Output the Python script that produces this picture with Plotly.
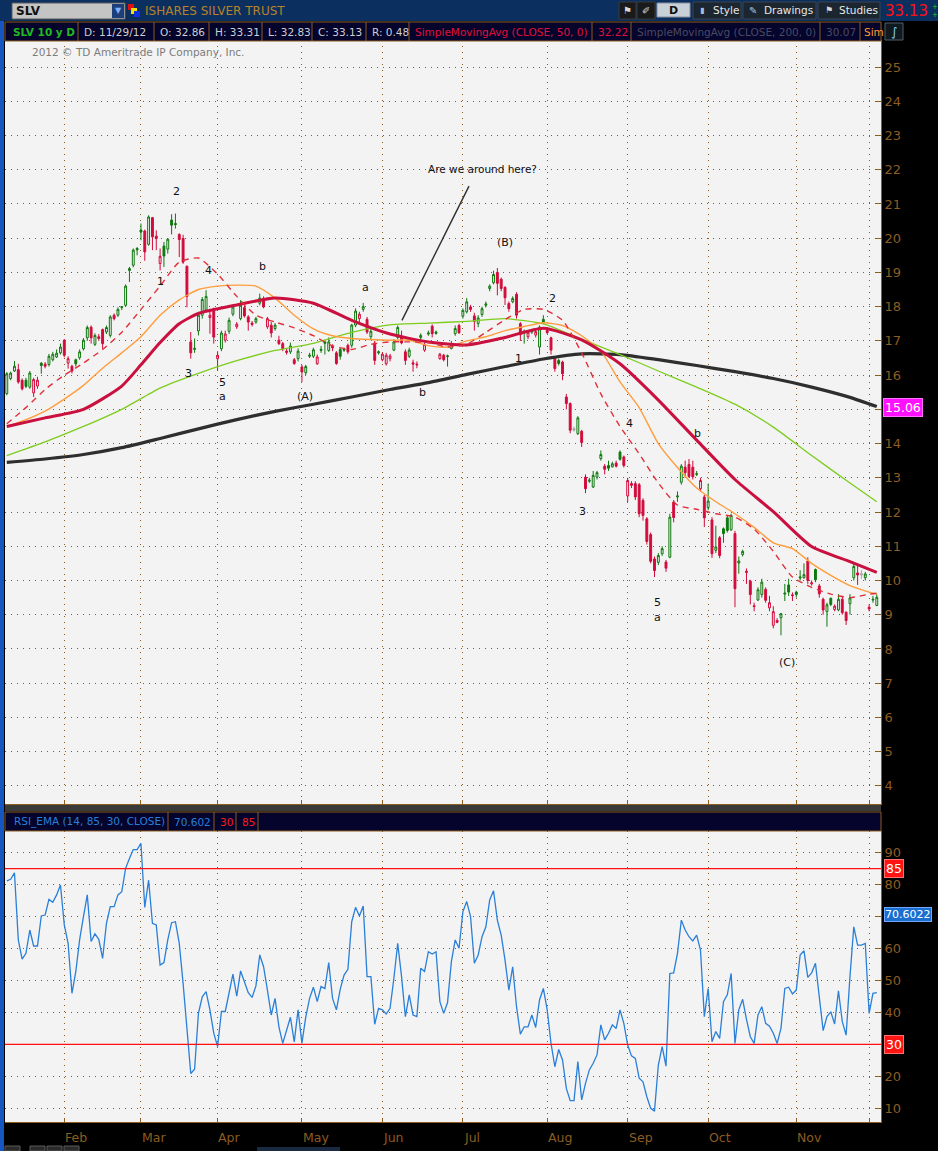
import plotly.graph_objects as go
import pandas as pd

# ---------------- data ----------------
HOLIDAYS = ["2008-01-21", "2008-02-18", "2008-03-21", "2008-05-26",
            "2008-07-04", "2008-09-01", "2008-11-27"]
trade_dates = [d for d in pd.bdate_range("2008-01-10", "2008-12-03")
               if d.strftime("%Y-%m-%d") not in HOLIDAYS]

opens = [15.46, 15.90, 16.12, 16.16, 15.85, 15.85, 15.65, 15.48, 15.68, 16.35,
         16.32, 16.31, 16.45, 16.53, 16.65, 17.02, 16.35, 16.26, 16.45, 16.51,
         16.77, 17.09, 17.40, 16.90, 17.12, 17.33, 17.26, 17.16, 17.75, 17.75,
         18.00, 18.04, 19.11, 19.21, 19.70, 20.24, 20.21, 19.82, 20.60, 20.06,
         19.26, 19.77, 19.68, 20.53, 20.43, 20.11, 19.99, 19.18, 16.97, 16.75,
         17.29, 17.75, 17.90, 17.68, 17.94, 16.48, 16.77, 17.02, 17.28, 17.78,
         17.41, 17.65, 17.97, 17.70, 17.52, 17.55, 18.10, 18.24, 17.41, 17.46,
         17.36, 17.02, 16.92, 16.66, 16.68, 16.45, 16.48, 16.24, 16.07, 16.55,
         16.55, 16.33, 16.72, 16.97, 16.72, 16.85, 16.65, 16.75, 16.76, 16.87,
         16.87, 17.46, 17.65, 17.92, 17.63, 17.12, 16.94, 16.65, 16.45, 16.33,
         16.48, 16.73, 17.10, 17.12, 16.68, 16.55, 16.36, 16.32, 17.10, 16.73,
         17.20, 17.43, 17.26, 16.48, 16.58, 16.54, 16.78, 17.21, 17.45, 17.72,
         17.85, 17.99, 17.73, 17.51, 17.77, 18.04, 18.53, 18.70, 19.00, 18.80,
         18.56, 18.09, 18.14, 18.36, 17.50, 17.26, 17.12, 17.26, 17.17, 16.82,
         17.63, 17.31, 17.09, 16.50, 16.43, 16.38, 15.36, 15.17, 14.44, 14.29,
         14.36, 13.02, 12.90, 12.73, 13.02, 13.56, 13.34, 13.36, 13.32, 13.43,
         13.75, 13.61, 12.47, 12.83, 12.83, 12.80, 12.34, 11.80, 11.34, 10.63,
         10.53, 10.78, 10.54, 10.68, 12.29, 12.44, 12.87, 13.31, 13.39, 13.31,
         13.10, 12.68, 12.44, 12.13, 11.77, 10.88, 11.25, 11.51, 11.83, 11.48,
         11.37, 10.51, 10.76, 10.27, 9.98, 9.26, 9.43, 9.59, 9.74, 9.20,
         8.69, 8.83, 8.91, 9.60, 9.87, 9.58, 9.66, 10.07, 10.08, 10.57,
         9.90, 10.32, 9.84, 9.45, 9.09, 9.48, 9.15, 9.14, 9.45, 9.07,
         9.32, 10.08, 10.22, 10.20, 10.08, 9.22, 9.43, 9.27]
highs = [16.09, 16.10, 16.41, 16.33, 15.90, 15.92, 16.12, 15.92, 15.95, 16.38,
         16.38, 16.62, 16.68, 16.75, 16.92, 17.05, 16.55, 16.30, 16.48, 16.75,
         17.08, 17.45, 17.45, 17.22, 17.20, 17.36, 17.45, 17.75, 17.80, 17.98,
         18.01, 18.65, 19.16, 19.70, 19.74, 20.43, 20.25, 20.67, 20.62, 20.23,
         19.70, 19.89, 20.00, 20.70, 20.72, 20.14, 20.10, 19.20, 17.26, 17.07,
         17.85, 18.28, 18.48, 17.94, 17.97, 16.70, 17.30, 17.30, 17.68, 18.05,
         17.55, 18.19, 18.10, 17.75, 17.58, 17.70, 18.38, 18.30, 17.70, 17.55,
         17.52, 17.15, 16.97, 16.78, 16.95, 16.50, 16.78, 16.30, 16.30, 16.65,
         16.80, 16.60, 16.85, 17.02, 17.10, 16.90, 16.70, 16.80, 16.80, 16.92,
         17.50, 17.95, 17.85, 18.11, 17.70, 17.35, 17.00, 16.72, 16.66, 16.65,
         16.62, 17.05, 17.45, 17.30, 16.75, 16.80, 16.45, 16.40, 17.22, 16.95,
         17.30, 17.48, 17.30, 16.65, 16.62, 16.60, 17.00, 17.45, 17.50, 17.95,
         18.25, 18.05, 17.82, 17.75, 18.00, 18.15, 18.65, 19.05, 19.13, 18.85,
         18.60, 18.15, 18.30, 18.42, 17.55, 17.33, 17.30, 17.33, 17.33, 17.45,
         17.75, 17.40, 17.12, 16.55, 16.48, 16.42, 15.45, 15.20, 14.50, 14.80,
         14.40, 13.10, 13.00, 13.20, 13.20, 13.80, 13.40, 13.50, 13.47, 13.50,
         13.80, 13.65, 13.00, 12.90, 12.90, 12.85, 12.40, 11.85, 11.40, 10.70,
         10.80, 11.00, 10.60, 11.95, 12.35, 12.60, 13.40, 13.50, 13.55, 13.50,
         13.20, 13.00, 12.50, 12.83, 11.85, 11.60, 11.30, 11.55, 11.90, 11.95,
         11.45, 10.70, 10.90, 10.35, 10.02, 9.35, 9.80, 10.05, 9.80, 9.55,
         9.25, 8.90, 9.05, 9.90, 10.05, 9.65, 9.70, 10.30, 10.50, 10.68,
         10.00, 10.35, 9.90, 9.50, 9.35, 9.50, 9.30, 9.60, 9.55, 9.10,
         9.60, 10.50, 10.45, 10.30, 10.25, 9.30, 9.55, 9.60]
lows = [15.41, 15.85, 16.09, 15.75, 15.55, 15.62, 15.60, 15.36, 15.60, 16.04,
        16.20, 16.25, 16.40, 16.50, 16.60, 16.52, 16.19, 16.05, 16.25, 16.45,
        16.72, 17.00, 16.92, 16.85, 17.00, 16.77, 17.20, 17.10, 17.60, 17.70,
        17.90, 18.00, 18.72, 19.15, 19.50, 19.94, 19.34, 19.78, 19.65, 19.65,
        19.06, 19.16, 19.55, 20.11, 20.28, 19.45, 19.25, 17.98, 16.48, 16.65,
        17.16, 17.65, 17.85, 17.21, 16.92, 16.14, 16.70, 16.95, 17.20, 17.72,
        17.35, 17.60, 17.68, 17.30, 17.42, 17.50, 18.04, 17.95, 17.35, 17.10,
        17.30, 16.88, 16.70, 16.60, 16.62, 16.30, 16.40, 15.80, 16.00, 16.50,
        16.50, 16.30, 16.65, 16.60, 16.68, 16.70, 16.30, 16.45, 16.68, 16.62,
        16.80, 17.40, 17.55, 17.85, 17.20, 17.05, 16.30, 16.60, 16.40, 16.28,
        16.40, 16.70, 17.05, 16.90, 16.30, 16.50, 16.10, 16.20, 17.00, 16.68,
        17.15, 17.10, 17.18, 16.45, 16.40, 16.25, 16.75, 17.15, 17.20, 17.65,
        17.80, 17.85, 17.30, 17.40, 17.70, 17.98, 18.45, 18.65, 18.33, 18.45,
        18.05, 17.85, 18.10, 17.65, 17.00, 16.92, 17.05, 17.20, 17.10, 16.60,
        17.50, 17.20, 16.60, 16.10, 16.28, 15.85, 15.00, 14.30, 14.35, 14.25,
        13.90, 12.55, 12.85, 12.70, 12.95, 13.50, 13.10, 13.20, 13.30, 13.30,
        13.50, 13.30, 12.29, 12.70, 12.35, 11.85, 11.75, 11.05, 10.50, 10.10,
        10.45, 10.72, 10.25, 10.65, 11.70, 12.30, 12.80, 13.00, 13.00, 12.95,
        13.05, 12.60, 11.56, 12.05, 10.66, 10.80, 10.65, 11.10, 11.40, 11.45,
        9.22, 10.20, 10.70, 9.90, 9.30, 9.10, 9.40, 9.50, 9.35, 9.10,
        8.60, 8.75, 8.40, 9.40, 9.55, 9.40, 9.50, 10.00, 10.05, 9.90,
        9.85, 9.95, 9.50, 9.00, 8.65, 9.25, 9.10, 9.10, 9.00, 8.70,
        9.00, 10.00, 9.87, 10.05, 10.00, 9.10, 9.35, 9.25]
closes = [16.04, 16.06, 16.26, 15.80, 15.60, 15.67, 16.06, 15.87, 15.85, 16.28,
          16.26, 16.55, 16.61, 16.64, 16.82, 16.58, 16.48, 16.12, 16.33, 16.68,
          17.02, 17.39, 17.09, 17.16, 17.07, 16.92, 17.39, 17.70, 17.65, 17.92,
          17.98, 18.60, 19.06, 19.65, 19.66, 20.18, 19.60, 20.62, 20.04, 19.99,
          19.47, 19.48, 19.97, 20.38, 20.40, 19.96, 19.30, 18.30, 16.65, 16.78,
          17.75, 18.21, 18.30, 17.75, 17.11, 16.58, 17.23, 17.20, 17.60, 17.99,
          17.49, 18.04, 17.73, 17.55, 17.48, 17.65, 18.25, 17.99, 17.65, 17.23,
          17.46, 16.92, 16.77, 16.70, 16.85, 16.34, 16.70, 16.09, 16.25, 16.58,
          16.74, 16.53, 16.75, 16.93, 16.97, 16.80, 16.34, 16.55, 16.73, 16.68,
          17.46, 17.87, 17.78, 18.00, 17.26, 17.28, 16.43, 16.68, 16.61, 16.58,
          16.56, 16.97, 17.39, 16.94, 16.43, 16.73, 16.32, 16.30, 17.16, 16.89,
          17.23, 17.21, 17.22, 16.61, 16.45, 16.56, 16.91, 17.36, 17.24, 17.89,
          18.14, 17.92, 17.57, 17.67, 17.94, 18.08, 18.60, 18.94, 18.68, 18.53,
          18.26, 17.94, 18.24, 17.75, 17.18, 17.28, 17.25, 17.28, 17.27, 17.40,
          17.53, 17.24, 16.73, 16.19, 16.34, 16.04, 15.17, 14.39, 14.39, 14.75,
          14.03, 12.68, 12.93, 13.07, 13.15, 13.68, 13.25, 13.28, 13.41, 13.34,
          13.54, 13.36, 12.92, 12.78, 12.44, 11.95, 11.90, 11.14, 10.56, 10.29,
          10.73, 10.93, 10.36, 11.85, 11.84, 12.47, 13.34, 13.15, 13.04, 13.03,
          13.12, 12.92, 11.83, 12.32, 10.78, 10.98, 10.73, 11.37, 11.46, 11.90,
          9.76, 10.57, 10.85, 10.24, 9.59, 9.24, 9.73, 9.95, 9.42, 9.35,
          9.09, 8.78, 9.03, 9.63, 9.66, 9.56, 9.59, 10.10, 10.17, 10.00,
          9.93, 10.02, 9.61, 9.14, 9.29, 9.30, 9.25, 9.45, 9.06, 8.83,
          9.49, 10.41, 10.16, 10.16, 10.19, 9.17, 9.45, 9.51]

rsi_values = [81.2, 81.7, 83.7, 62.7, 56.7, 58.5, 65.8, 60.8, 60.8, 70.2,
              70.5, 75.4, 74.5, 76.8, 79.9, 67.4, 61.6, 46.0, 52.8, 62.7,
              70.0, 76.8, 62.2, 64.6, 62.9, 56.9, 67.9, 73.1, 73.1, 76.8,
              77.8, 85.1, 88.2, 91.0, 91.0, 92.9, 72.9, 81.4, 67.9, 67.4,
              54.8, 55.6, 62.7, 68.1, 68.4, 61.6, 49.1, 35.5, 20.9, 22.2,
              39.7, 44.9, 46.5, 40.8, 33.5, 29.3, 40.3, 40.3, 46.5, 52.0,
              45.1, 53.0, 49.6, 46.2, 44.7, 48.3, 58.0, 54.3, 47.0, 39.2,
              44.4, 35.5, 30.3, 34.5, 38.5, 30.8, 40.8, 30.3, 38.5, 44.4,
              47.9, 43.4, 48.1, 47.5, 55.6, 44.4, 40.8, 47.2, 51.7, 53.5,
              68.4, 72.9, 70.2, 73.3, 51.2, 51.2, 36.3, 41.3, 40.8, 39.5,
              41.3, 50.7, 61.6, 51.2, 38.7, 45.5, 39.2, 38.7, 53.8, 52.8,
              59.0, 58.3, 59.0, 43.4, 39.7, 43.1, 55.9, 62.7, 60.1, 71.5,
              74.7, 70.0, 55.4, 58.0, 63.7, 66.8, 75.2, 78.1, 68.9, 64.2,
              56.4, 47.0, 54.3, 41.8, 33.2, 35.5, 35.5, 39.2, 35.3, 43.9,
              47.5, 40.8, 30.3, 23.0, 28.4, 25.1, 16.2, 12.4, 12.4, 24.6,
              12.6, 17.8, 22.0, 24.1, 26.7, 36.1, 31.4, 33.5, 36.1, 35.0,
              40.8, 36.6, 29.8, 26.4, 25.6, 19.4, 18.3, 13.6, 10.0, 9.1,
              23.5, 29.3, 23.2, 52.2, 52.4, 58.5, 68.9, 65.8, 63.7, 62.4,
              64.2, 59.5, 38.7, 47.5, 30.8, 34.0, 31.9, 43.4, 45.5, 52.2,
              30.3, 40.8, 44.1, 37.8, 32.4, 30.3, 39.2, 41.8, 36.6, 35.7,
              33.5, 30.3, 35.0, 47.5, 47.9, 45.8, 47.0, 58.0, 59.3, 51.0,
              52.4, 55.4, 44.9, 34.3, 38.7, 40.2, 36.4, 46.8, 37.1, 32.9,
              51.2, 66.8, 61.1, 61.1, 61.6, 39.7, 46.0, 46.2]

ma_days_5 = list(range(0, 226, 5)) + [227]
ma_days_10 = list(range(0, 221, 10)) + [227]
sma50_days = [0, 10, 20, 30, 35, 40, 45, 50, 60, 70, 80, 90, 100, 110, 120, 130,
              140, 150, 160, 170, 180, 190, 200, 210, 220, 227]
sma50_vals = [14.5, 14.75, 15.0, 15.68, 16.3, 16.95, 17.5, 17.8, 18.05, 18.25, 18.1,
              17.6, 17.2, 16.97, 16.88, 17.1, 17.37, 17.03, 16.33, 15.27, 14.1,
              12.95, 12.01, 10.99, 10.55, 10.24]
sma200_vals = [13.45, 13.55, 13.68, 13.88, 14.15, 14.43, 14.7, 14.94, 15.15, 15.36,
               15.58, 15.78, 16.02, 16.25, 16.47, 16.62, 16.6, 16.45, 16.28, 16.1,
               15.9, 15.65, 15.35, 15.08]
green_ma_vals = [13.65, 14.05, 14.5, 15.0, 15.62, 16.05, 16.42, 16.72, 16.93, 17.25,
                 17.47, 17.52, 17.57, 17.65, 17.5, 17.05, 16.6, 16.12, 15.65, 15.15,
                 14.48, 13.65, 12.85, 12.3]
orange_ma_vals = [14.5, 14.7, 14.95, 15.3, 15.7, 16.2, 16.65, 17.12, 17.75, 18.2,
                  18.5, 18.6, 18.63, 18.6, 18.25, 17.75, 17.35, 17.15, 17.07, 17.04,
                  17.02, 17.02, 16.86, 16.82, 17.0, 17.12, 17.3, 17.42, 17.53, 17.45,
                  17.15, 16.7, 15.8, 15.05, 14.0, 13.3, 12.7, 12.3, 11.95, 11.55,
                  11.1, 10.93, 10.5, 10.15, 9.85, 9.66, 9.6]
dashed_ma_vals = [14.58, 15.05, 15.58, 16.0, 16.35, 16.75, 17.25, 17.92, 18.6, 19.3,
                  19.42, 18.95, 18.3, 17.75, 17.55, 17.38, 17.15, 16.85, 16.75, 16.9,
                  16.97, 16.97, 16.95, 16.82, 16.9, 17.25, 17.62, 17.92, 17.92, 17.6,
                  16.65, 15.45, 14.5, 13.7, 12.85, 12.2, 12.08, 11.95, 11.85, 11.5,
                  10.85, 10.1, 9.8, 9.6, 9.5, 9.6, 9.63]

price_ticks = list(range(4, 26))
rsi_ticks = list(range(10, 100, 10))
last_price_label = 15.06
last_rsi_label = 70.6022
wave_labels = [("2", 44.4, 21.35), ("1", 40.2, 18.74), ("4", 52.5, 19.06),
               ("3", 47.5, 16.05), ("5", 56.4, 15.79), ("a", 56.4, 15.38),
               ("b", 66.6, 19.18), ("(A)", 77.8, 15.38), ("a", 93.7, 18.57),
               ("b", 108.4, 15.5), ("(B)", 130.0, 19.88), ("2", 142.5, 18.25),
               ("1", 133.4, 16.49), ("4", 162.6, 14.59), ("3", 150.1, 12.02),
               ("b", 180.1, 14.3), ("5", 169.9, 9.36), ("a", 169.9, 8.92),
               ("(C)", 203.6, 7.6)]
note_text = "Are we around here?"

# ---------------- helpers ----------------
W, H = 938, 1151
FONT = "DejaVu Sans"
BROWN = "#8c5c20"
GRID = "#8a5a1a"
GREEN = "#0e780e"
RED = "#d20a3c"
BG = "#f3f3f3"


def px(x):
    return x / W


def py(y):
    return 1 - y / H


n = len(closes)
xi = list(range(n))

# month starts
month_idx, month_lab = [], []
prev_m = trade_dates[0].month
for i, d in enumerate(trade_dates):
    if d.month != prev_m:
        month_idx.append(i)
        month_lab.append(d.strftime("%b"))
        prev_m = d.month

fig = go.Figure()

# moving averages
ma_specs = [
    (ma_days_10, sma200_vals, "#2e2e2e", 3.2, "solid"),
    (ma_days_10, green_ma_vals, "#7dcc1e", 1.3, "solid"),
    (ma_days_5, orange_ma_vals, "#ff9d3d", 1.4, "solid"),
    (sma50_days, sma50_vals, "#c9103e", 3.0, "solid"),
    (ma_days_5, dashed_ma_vals, "#e0303a", 1.4, "6px,5px"),
]
for days, vals, col, wd, dash in ma_specs:
    fig.add_trace(go.Scatter(x=days, y=vals, mode="lines",
                             line=dict(color=col, width=wd, dash=dash, shape="spline", smoothing=0.6),
                             hoverinfo="skip", showlegend=False, xaxis="x", yaxis="y"))

# candles, coloured by close vs previous close (hollow when close > open)
groups = {"g": [], "r": [], "n": []}
for i in range(n):
    ref = closes[i - 1] if i > 0 else opens[i]
    if closes[i] > ref:
        groups["g"].append(i)
    elif closes[i] < ref:
        groups["r"].append(i)
    else:
        groups["n"].append(i)
gcols = {"g": GREEN, "r": RED, "n": "#a8a8a8"}
for k, idxs in groups.items():
    if not idxs:
        continue
    c = gcols[k]
    fig.add_trace(go.Candlestick(
        x=idxs, open=[opens[i] for i in idxs], high=[highs[i] for i in idxs],
        low=[lows[i] for i in idxs], close=[closes[i] for i in idxs],
        increasing=dict(line=dict(color=c, width=1), fillcolor=BG),
        decreasing=dict(line=dict(color=c, width=1), fillcolor=c),
        whiskerwidth=0, showlegend=False, hoverinfo="skip", xaxis="x", yaxis="y"))

# RSI
fig.add_trace(go.Scatter(x=xi, y=rsi_values, mode="lines",
                         line=dict(color="#2a7fd8", width=1.3),
                         hoverinfo="skip", showlegend=False, xaxis="x2", yaxis="y2"))

xr = [-0.47, 228.1]
DOTS = "1px,5px"
common_x = dict(range=xr, tickvals=month_idx, showticklabels=False, showgrid=True,
                gridcolor=GRID, griddash=DOTS, gridwidth=1, zeroline=False,
                showline=True, linecolor=BROWN, linewidth=1, ticks="inside",
                ticklen=4, tickcolor=BROWN, fixedrange=True,
                domain=[px(5), px(881)])
common_y = dict(side="right", showgrid=True, gridcolor=GRID, griddash=DOTS,
                gridwidth=1, zeroline=False, ticks="inside", ticklen=5,
                tickcolor=BROWN, showline=True, linecolor=BROWN, linewidth=1,
                tickfont=dict(family=FONT, size=13, color=BROWN), fixedrange=True)

# tick labels hidden where the value boxes cover them
price_text = ["" if abs(t - last_price_label) < 0.5 else str(t) for t in price_ticks]
rsi_text = ["" if abs(t - last_rsi_label) < 3 else str(t) for t in rsi_ticks]

fig.update_layout(
    width=W, height=H, autosize=False,
    margin=dict(l=0, r=0, t=0, b=0),
    paper_bgcolor="black", plot_bgcolor=BG,
    font=dict(family=FONT),
    xaxis=dict(**common_x, anchor="y", rangeslider=dict(visible=False)),
    xaxis2=dict(**common_x, anchor="y2"),
    yaxis=dict(**common_y, anchor="x", range=[3.47, 25.79], tickvals=price_ticks,
               ticktext=price_text, domain=[py(804), py(40)]),
    yaxis2=dict(**common_y, anchor="x2", range=[5.7, 96.8], tickvals=rsi_ticks,
                ticktext=rsi_text, domain=[py(1122), py(831)]),
)

shapes = []
ann = []


def rect(x0, y0, x1, y1, fill, line=None, lw=1):
    shapes.append(dict(type="rect", xref="paper", yref="paper",
                       x0=px(x0), x1=px(x1), y0=py(y1), y1=py(y0),
                       fillcolor=fill, line=dict(color=line or fill, width=lw if line else 0),
                       layer="above"))


def vline(x, y0, y1, col, w=1):
    shapes.append(dict(type="line", xref="paper", yref="paper",
                       x0=px(x), x1=px(x), y0=py(y0), y1=py(y1),
                       line=dict(color=col, width=w), layer="above"))


def text(x, y, s, col, size=13, bold=False, anchor="left", fam=FONT, bg=None):
    ann.append(dict(x=px(x), y=py(y), xref="paper", yref="paper", text=(f"<b>{s}</b>" if bold else s),
                    showarrow=False, xanchor=anchor, yanchor="middle",
                    font=dict(family=fam, size=size, color=col),
                    bgcolor=bg))


# top title bar
rect(0, 0, 938, 21, "#0b3060")
rect(12, 3, 125, 19, "#c4c4c4", "#5a5a5a")
rect(112, 4, 124, 18, "#1c3f7c")
text(14, 11, "SLV", "#101010", 12, bold=True)
text(118, 11, "▼", "#7fb0ff", 8, anchor="center")
rect(128, 4, 134, 10, "#e01010")
rect(131, 8, 137, 14, "#f0e000")
rect(134, 11, 140, 17, "#1030e0")
text(143, 11, "ISHARES SILVER TRUST", "#b8822a", 12)
rect(619, 2, 636, 19, "#1a1a1a", "#3a3a3a")
rect(637, 2, 655, 19, "#1a1a1a", "#3a3a3a")
text(627, 10, "⚑", "#d8d8d8", 10, anchor="center")
text(646, 10, "✐", "#d8d8d8", 10, anchor="center")
rect(657, 3, 690, 17, "#c8d0d8", "#8a9098")
text(673, 10, "D", "#101010", 11, bold=True, anchor="center")
rect(693, 2, 741, 19, "#1c2630", "#3a4450")
text(698, 10, "▮", "#9cc0e0", 8)
text(711, 10, "Style", "#e6e6e6", 10.5)
rect(743, 2, 816, 19, "#1c2630", "#3a4450")
text(747, 10, "✎", "#9cc0e0", 10)
text(762, 10, "Drawings", "#e6e6e6", 10.5)
rect(818, 2, 880, 19, "#1c2630", "#3a4450")
text(823, 10, "⚑", "#d8d8d8", 9)
text(837, 10, "Studies", "#e6e6e6", 10.5)
text(883, 11, "33.13", "#ff1010", 15)
text(930, 7, "+", "#20d020", 7)
text(930, 15, "+", "#20d020", 7)

# header strip with quote cells
rect(5, 22, 881, 41, "#04042c", BROWN)
for xv in [78, 154, 209, 262, 312, 366, 409, 592, 631, 820, 860]:
    vline(xv, 22, 41, BROWN)
text(11, 31.5, "SLV 10 y D", "#22b822", 10.5, bold=True)
cells = [(82, "D: 11/29/12", "#cfcfcf"), (158, "O: 32.86", "#cfcfcf"),
         (213, "H: 33.31", "#cfcfcf"), (266, "L: 32.83", "#cfcfcf"),
         (316, "C: 33.13", "#cfcfcf"), (370, "R: 0.48", "#cfcfcf"),
         (413, "SimpleMovingAvg (CLOSE, 50, 0)", "#e0103a"), (596, "32.22", "#e0103a"),
         (635, "SimpleMovingAvg (CLOSE, 200, 0)", "#4a4a62"), (824, "30.07", "#4a4a62"),
         (862, "Sim", "#ff9a30")]
for xv, s, col in cells:
    text(xv, 31.5, s, col, 10.5)
rect(885, 23, 903, 40, "#101820", "#50606a")
text(894, 31.5, "∫", "#8fd0ff", 12, anchor="center")

# left blue stripe
rect(0, 21, 4, 1151, "#1656c0")

# separator between panels
rect(5, 805, 881, 811, "#3a3a3a")
rect(881, 805, 938, 811, "#000000")

# RSI header strip
rect(5, 812, 881, 831, "#04042c", BROWN)
for xv in [168, 214, 236, 258]:
    vline(xv, 812, 831, BROWN)
text(12, 821.5, "RSI_EMA (14, 85, 30, CLOSE)", "#2a7fd8", 10.5)
text(172, 821.5, "70.602", "#2a7fd8", 10.5)
text(218, 821.5, "30", "#ff1a1a", 10.5)
text(240, 821.5, "85", "#ff1a1a", 10.5)

# bottom toolbar stub
for x0 in [5, 30, 47, 64]:
    rect(x0, 1146, x0 + 15, 1151, "#2a2a2a", "#5a5a5a")
rect(257, 1147, 340, 1151, "#1a2a40")

# copyright
text(30, 52, "2012 © TD Ameritrade IP Company, Inc.", "#7c7c7c", 10.5)

# RSI reference lines
for lvl in (85, 30):
    shapes.append(dict(type="line", xref="x2 domain", yref="y2", x0=0, x1=1, y0=lvl, y1=lvl,
                       line=dict(color="#ff1010", width=1.2), layer="above"))

# pointer line for the note
shapes.append(dict(type="line", xref="x", yref="y", x0=120.6, y0=21.52, x1=103.1, y1=17.6,
                   line=dict(color="#303030", width=1.4), layer="above"))
ann.append(dict(x=124.0, y=22.02, xref="x", yref="y", text=note_text, showarrow=False,
                xanchor="center", yanchor="middle", font=dict(family=FONT, size=10.5, color="#101010")))

for s, xv, yv in wave_labels:
    ann.append(dict(x=xv, y=yv, xref="x", yref="y", text=s, showarrow=False,
                    xanchor="center", yanchor="middle",
                    font=dict(family=FONT, size=11, color="#101010")))

# month labels
for mi, ml in zip(month_idx, month_lab):
    if ml == "Dec":
        continue
    ann.append(dict(x=mi - 0.3, y=py(1137), xref="x2", yref="paper", text=ml, showarrow=False,
                    xanchor="left", yanchor="middle", font=dict(family=FONT, size=12.5, color=BROWN)))

# value boxes on the right axes
ann.append(dict(x=px(883), y=last_price_label, xref="paper", yref="y", text=f"{last_price_label:.2f}",
                showarrow=False, xanchor="left", yanchor="middle", bgcolor="#ff10ff",
                bordercolor="#ff70ff", borderwidth=1, borderpad=1,
                font=dict(family=FONT, size=12.5, color="white")))
ann.append(dict(x=px(884), y=85, xref="paper", yref="y2", text="85", showarrow=False,
                xanchor="left", yanchor="middle", bgcolor="#ff1414", bordercolor="#ff7070",
                borderwidth=1, borderpad=1, font=dict(family=FONT, size=12.5, color="white")))
ann.append(dict(x=px(884), y=30, xref="paper", yref="y2", text="30", showarrow=False,
                xanchor="left", yanchor="middle", bgcolor="#ff1414", bordercolor="#ff7070",
                borderwidth=1, borderpad=1, font=dict(family=FONT, size=12.5, color="white")))
ann.append(dict(x=px(884), y=last_rsi_label, xref="paper", yref="y2", text=f"{last_rsi_label:.4f}",
                showarrow=False, xanchor="left", yanchor="middle", bgcolor="#1a6ed0",
                bordercolor="#70a8ff", borderwidth=1, borderpad=0,
                font=dict(family=FONT, size=11, color="white")))

fig.update_layout(shapes=shapes, annotations=ann)

fig.write_html("out.html", config={"displayModeBar": False},
               post_script="document.body.style.margin='0';document.body.style.overflow='hidden';")
